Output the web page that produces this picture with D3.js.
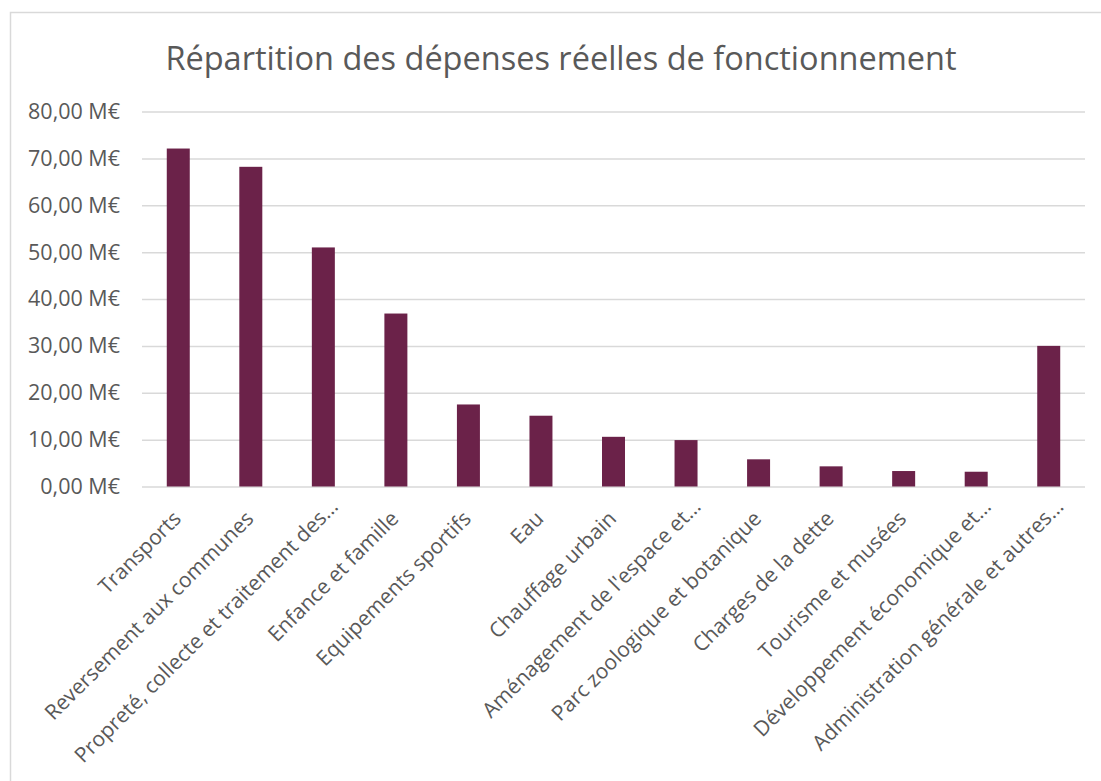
<!DOCTYPE html>
<html>
<head>
<meta charset="utf-8">
<script src="https://cdn.jsdelivr.net/npm/d3@7"></script>
<style>
  body { margin: 0; background: #fff; }
  svg text { font-family: "Open Sans", sans-serif; fill: #595959; }
</style>
</head>
<body>
<script>
const categories = [
  "Transports",
  "Reversement aux communes",
  "Propreté, collecte et traitement des…",
  "Enfance et famille",
  "Equipements sportifs",
  "Eau",
  "Chauffage urbain",
  "Aménagement de l'espace et…",
  "Parc zoologique et botanique",
  "Charges de la dette",
  "Tourisme et musées",
  "Développement économique et…",
  "Administration générale et autres…"
];
const values = [72.1, 68.2, 51.0, 36.9, 17.5, 15.1, 10.6, 9.9, 5.8, 4.3, 3.3, 3.15, 30.0];
const yTicks = [0, 10, 20, 30, 40, 50, 60, 70, 80];
const title = "Répartition des dépenses réelles de fonctionnement";

const width = 1101, height = 781;
const plotLeft = 142, plotRight = 1085, plotTop = 111.5, plotBottom = 486.5;

const svg = d3.select("body").append("svg")
  .attr("width", width)
  .attr("height", height);

// chart frame
svg.append("rect")
  .attr("x", 10.5).attr("y", 12.5)
  .attr("width", 1200).attr("height", 1000)
  .attr("fill", "none")
  .attr("stroke", "#d9d9d9")
  .attr("stroke-width", 1.5);

svg.append("text")
  .attr("x", 561)
  .attr("y", 70)
  .attr("text-anchor", "middle")
  .attr("font-size", "32.5px")
  .text(title);

const x = d3.scaleBand(categories, [plotLeft, plotRight])
  .paddingInner(0.683)
  .paddingOuter(0.3415);

const y = d3.scaleLinear([0, 80], [plotBottom, plotTop]);

// grid + y labels
const yAxis = svg.append("g")
  .attr("transform", `translate(${plotLeft},0)`)
  .call(d3.axisLeft(y).tickValues(yTicks)
    .tickSize(-(plotRight - plotLeft))
    .tickPadding(22)
    .tickFormat(d => d3.format(".2f")(d).replace(".", ",") + " M€"));
yAxis.select(".domain").remove();
yAxis.selectAll(".tick line").attr("stroke", "#d9d9d9").attr("stroke-width", 1.5);
yAxis.selectAll(".tick text")
  .attr("font-size", "21.5px")
  .attr("fill", "#595959")
  .style("font-family", "'Open Sans', sans-serif");

svg.append("g")
  .selectAll("rect")
  .data(values)
  .join("rect")
  .attr("x", (d, i) => x(categories[i]))
  .attr("y", d => y(d))
  .attr("width", x.bandwidth())
  .attr("height", d => y(0) - y(d))
  .attr("fill", "#6b2249");

// category labels (truncated ones sit a little further along their baseline)
svg.append("g")
  .selectAll("text")
  .data(categories)
  .join("text")
  .attr("text-anchor", "end")
  .attr("font-size", "21px")
  .attr("dx", d => d.endsWith("…") ? 17 : 0)
  .attr("transform", d => `translate(${x(d) + x.bandwidth() / 2 + 4},${plotBottom + 33.5}) rotate(-45)`)
  .text(d => d);
</script>
</body>
</html>
